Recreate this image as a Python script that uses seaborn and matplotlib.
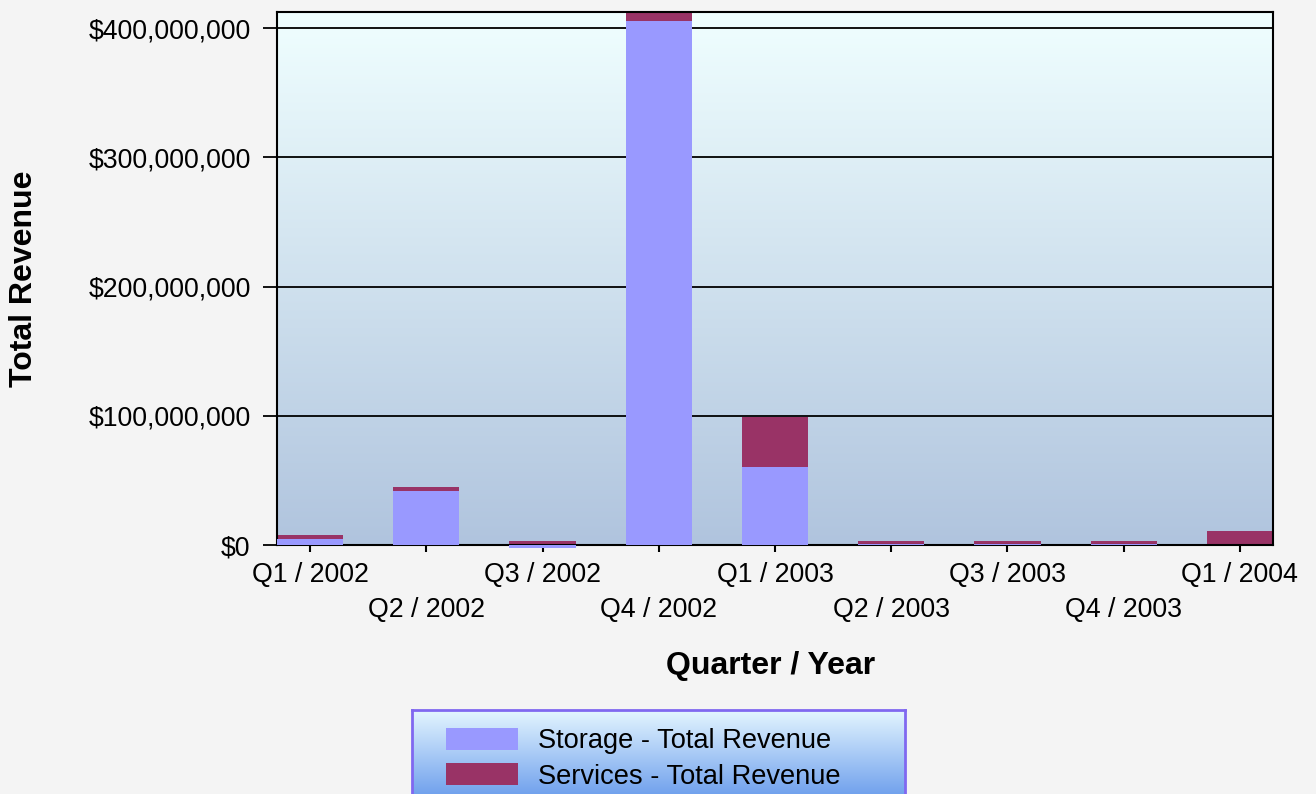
import numpy as np
import pandas as pd
import matplotlib
matplotlib.use("Agg")
import matplotlib.pyplot as plt
from matplotlib.patches import Patch
from matplotlib.ticker import FuncFormatter
import seaborn as sns

# ---- data (USD) ----
quarters = ["Q1 / 2002", "Q2 / 2002", "Q3 / 2002", "Q4 / 2002", "Q1 / 2003",
            "Q2 / 2003", "Q3 / 2003", "Q4 / 2003", "Q1 / 2004"]
storage = [4.4e6, 41.8e6, -2.0e6, 405.6e6, 60.6e6, 0.5e6, 0.5e6, 0.5e6, 0.2e6]
services = [3.3e6, 3.1e6, 3.1e6, 8.0e6, 38.7e6, 2.6e6, 2.6e6, 2.6e6, 10.9e6]
y_ticks = [0, 100e6, 200e6, 300e6, 400e6]
series_labels = ["Storage - Total Revenue", "Services - Total Revenue"]

STORAGE_C = "#9999FF"
SERVICES_C = "#993366"
FIG_BG = "#F4F4F4"

plt.rcParams["font.family"] = ["Liberation Sans", "DejaVu Sans"]

df = pd.DataFrame({"quarter": quarters, "storage": storage, "services": services})
df["pos_top"] = df["storage"].clip(lower=0) + df["services"]

fig = plt.figure(figsize=(13.16, 7.94), dpi=100, facecolor=FIG_BG)
W, H = 1316, 794
ax = fig.add_axes([277 / W, 1 - 545 / H, (1273 - 277) / W, (545 - 12) / H])


def vgrad(top, bottom, n=256):
    t = np.linspace(0, 1, n)[:, None]
    top = np.array(top, float) / 255
    bottom = np.array(bottom, float) / 255
    img = top[None, :] * (1 - t) + bottom[None, :] * t
    return img[:, None, :]


ax.imshow(vgrad((240, 255, 255), (176, 196, 222)), extent=(0, 1, 0, 1),
          transform=ax.transAxes, aspect="auto", zorder=0, interpolation="bilinear")

sns.barplot(data=df, x="quarter", y="pos_top", color=SERVICES_C, saturation=1,
            width=0.57, errorbar=None, linewidth=0, ax=ax, zorder=2)
sns.barplot(data=df, x="quarter", y="storage", color=STORAGE_C, saturation=1,
            width=0.57, errorbar=None, linewidth=0, ax=ax, zorder=3, clip_on=False)

ax.set_xlim(-0.285, 8.285)
ax.set_ylim(0, 412.4e6)
ax.set_yticks(y_ticks)
ax.yaxis.set_major_formatter(FuncFormatter(lambda v, p: f"${v:,.0f}"))
ax.set_axisbelow(True)
ax.yaxis.grid(True, color="black", linewidth=1.3)
ax.xaxis.grid(False)

ax.set_xticks(range(len(quarters)))
ax.set_xticklabels([q if i % 2 == 0 else "\n" + q for i, q in enumerate(quarters)],
                   fontsize=19.3)
for t in ax.get_xticklabels():
    t.set_linespacing(1.48)
for t in ax.get_yticklabels():
    t.set_fontsize(19.2)

ax.tick_params(axis="y", length=10, width=1.3, pad=9, direction="out", colors="black")
ax.tick_params(axis="x", length=5, width=1.5, pad=7, direction="out", colors="black")
for s in ax.spines.values():
    s.set_color("black")
    s.set_linewidth(1.5)

ax.set_xlabel("Quarter / Year", fontsize=23, fontweight="bold")
ax.set_ylabel("Total Revenue", fontsize=23, fontweight="bold")
ax.xaxis.label.set_va("center")
ax.xaxis.set_label_coords((771 - 277) / 996, (545 - 666) / 533)
ax.yaxis.label.set_va("center")
ax.yaxis.set_label_coords((24 - 277) / 996, 0.5)

# legend box with gradient
lax = fig.add_axes([412 / W, -6 / H, 493 / W, (794 - 710 + 6) / H])
lax.imshow(vgrad((228, 246, 255), (106, 156, 236)), extent=(0, 1, 0, 1),
           transform=lax.transAxes, aspect="auto", zorder=0, interpolation="bilinear")
lax.set_xticks([])
lax.set_yticks([])
for s in lax.spines.values():
    s.set_color("#8068F0")
    s.set_linewidth(2)
handles = [Patch(facecolor=STORAGE_C, label=series_labels[0]),
           Patch(facecolor=SERVICES_C, label=series_labels[1])]
lax.legend(handles=handles, loc="upper left", bbox_to_anchor=(0.069, 0.80),
           frameon=False, fontsize=19.6, handlelength=2.65, handleheight=0.85,
           handletextpad=0.72, labelspacing=0.33, borderpad=0, borderaxespad=0)

fig.savefig("out.png", dpi=100, facecolor=FIG_BG)
